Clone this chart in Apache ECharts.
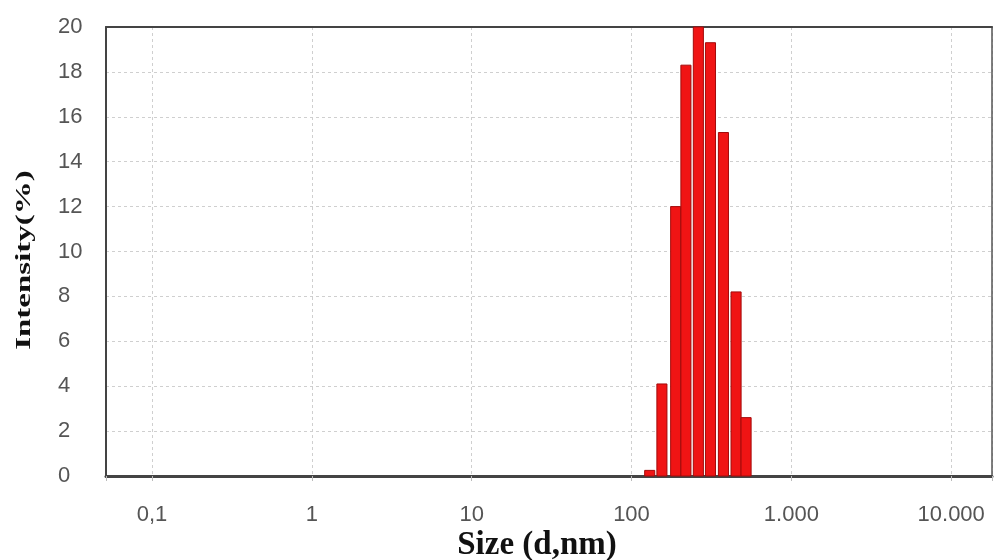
<!DOCTYPE html>
<html><head><meta charset="utf-8">
<script src="https://cdn.jsdelivr.net/npm/echarts@6/dist/echarts.min.js"></script>
<style>html,body{margin:0;padding:0;background:#fff}#c{width:995px;height:560px}</style>
</head><body><div id="c"></div>
<script>
// Data
const sizes = [130, 155, 189, 219, 262, 312, 376, 451, 521];          // d, nm (bin centres)
const intensities = [0.25, 4.1, 12.0, 18.3, 20.0, 19.3, 15.3, 8.2, 2.6]; // %
const xTickValues = [0.1, 1, 10, 100, 1000, 10000];
const xTickLabels = ['0,1', '1', '10', '100', '1.000', '10.000'];
const yTickLabels = ['0','2','4','6','8','10','12','14','16','18','20'];

const HALF = 0.0315; // half bar width in decades
const chart = echarts.init(document.getElementById('c'), null, {renderer: 'canvas'});
const data = sizes.map((s, i) => [s, intensities[i]]);

function xFmt(v) {
  for (let i = 0; i < xTickValues.length; i++) {
    if (Math.abs(Math.log10(v) - Math.log10(xTickValues[i])) < 1e-6) return xTickLabels[i];
  }
  return '';
}

chart.setOption({
  animation: false,
  backgroundColor: '#fff',
  grid: {left: 106, right: 2, top: 27, bottom: 84},
  xAxis: [{
    type: 'log', logBase: 10, min: 0.0516, max: 18000,
    axisLine: {show: true, onZero: false, lineStyle: {color: '#444', width: 3}},
    axisTick: {show: true, length: 5, lineStyle: {color: '#bbb'}},
    axisLabel: {margin: 28, fontFamily: 'Liberation Sans', fontSize: 22, color: '#555', formatter: xFmt},
    splitLine: {show: true, lineStyle: {color: '#cfcfcf', type: [3, 3], width: 1}}
  }, {
    type: 'log', logBase: 10, min: 0.0516, max: 18000, position: 'top',
    axisLine: {show: true, onZero: false, lineStyle: {color: '#444', width: 2}},
    axisTick: {show: false}, axisLabel: {show: false}, splitLine: {show: false}
  }],
  yAxis: [{
    type: 'value', min: 0, max: 20, interval: 2,
    axisLine: {show: true, onZero: false, lineStyle: {color: '#444', width: 2}},
    axisTick: {show: false},
    axisLabel: {
      margin: 48, align: 'left', fontFamily: 'Liberation Sans', fontSize: 22, color: '#555',
      formatter: function (v) { return yTickLabels[Math.round(v / 2)]; }
    },
    splitLine: {show: true, lineStyle: {color: '#cfcfcf', type: [3, 3], width: 1}}
  }, {
    type: 'value', min: 0, max: 20, interval: 2, position: 'right',
    axisLine: {show: true, onZero: false, lineStyle: {color: '#555', width: 1.5}},
    axisTick: {show: false}, axisLabel: {show: false}, splitLine: {show: false}
  }],
  graphic: [{
    type: 'text', x: 24, y: 260, rotation: Math.PI / 2, scaleX: 1.5, scaleY: 1,
    style: {text: 'Intensity(%)', font: 'bold 22px "Liberation Serif"', fill: '#111', align: 'center', verticalAlign: 'middle'}
  }, {
    type: 'text', x: 537, y: 545,
    style: {text: 'Size (d,nm)', font: 'bold 33px "Liberation Serif"', fill: '#111', align: 'center', verticalAlign: 'middle'}
  }],
  series: [{
    type: 'custom',
    data: data,
    encode: {x: 0, y: 1},
    renderItem: function (params, api) {
      const c = api.value(0), v = api.value(1);
      const p0 = api.coord([c / Math.pow(10, HALF), 0]);
      const p1 = api.coord([c * Math.pow(10, HALF), v]);
      return {
        type: 'rect',
        shape: {x: p0[0], y: p1[1], width: p1[0] - p0[0], height: p0[1] - p1[1]},
        style: {fill: '#f01414', stroke: '#a30a0a', lineWidth: 1}
      };
    },
    z: 3
  }]
});
</script></body></html>
